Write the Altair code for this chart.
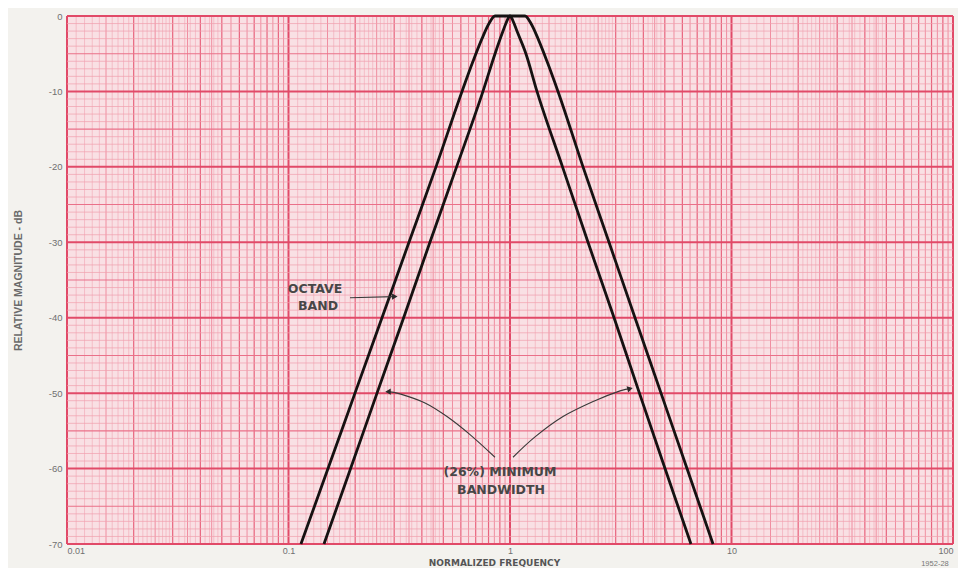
import altair as alt
import pandas as pd

# ---- data ----
oct_freq = [0.1138, 0.1508, 0.1996, 0.2643, 0.3499, 0.4634, 0.6072, 0.6808, 0.7475, 0.8039, 0.8555,
            1.0, 1.169, 1.244, 1.338, 1.469, 1.647, 2.136, 2.799, 3.667, 4.806, 6.297, 8.253]
oct_db = [-70, -60, -50, -40, -30, -20, -10, -6, -3, -1, 0,
          0, 0, -1, -3, -6, -10, -20, -30, -40, -50, -60, -70]

min_freq = [0.1446, 0.1907, 0.251, 0.331, 0.435, 0.574, 0.755, 0.856, 0.930, 0.97, 1.0,
            1.03, 1.075, 1.18, 1.324, 1.726, 2.25, 2.95, 3.84, 5.01, 6.56]
min_db = [-70, -60, -50, -40, -30, -20, -10, -5, -2, -0.6, 0,
          -0.6, -2, -5, -10, -20, -30, -40, -50, -60, -70]

x_ticks = [0.01, 0.1, 1, 10, 100]
y_ticks = [0, -10, -20, -30, -40, -50, -60, -70]

# annotation texts (position in data units)
note_text = ["OCTAVE", "BAND", "(26%) MINIMUM", "BANDWIDTH"]
note_f = [0.1318, 0.1359, 0.901, 0.911]
note_db = [-36.2, -38.4, -60.5, -62.8]

# arrow paths
arrow_grp = ["oct"] * 2 + ["left"] * 6 + ["right"] * 6
arrow_f = [0.1895, 0.298,
           0.8555, 0.660, 0.5194, 0.4133, 0.3186, 0.2813,
           1.0317, 1.297, 1.735, 2.419, 3.139, 3.482]
arrow_db = [-37.35, -37.2,
            -58.5, -55.5, -53.1, -51.3, -50.1, -49.8,
            -58.5, -55.8, -53.1, -51.0, -49.7, -49.4]
head_f = [0.302, 0.2813, 3.482]
head_db = [-37.2, -49.8, -49.4]
head_angle = [0, 180, 345]

# graph paper grid lines
decades = [0.01, 0.1, 1, 10]
grid_major_x = decades + [100]
grid_medium_x = [k * d for d in decades for k in range(2, 10)]
grid_half_x = [(k + 0.5) * d for d in decades for k in range(1, 10)]
fine_mult = [1.1, 1.2, 1.3, 1.4, 1.6, 1.7, 1.8, 1.9, 2.1, 2.2, 2.3, 2.4, 2.6, 2.7, 2.8, 2.9,
             3.2, 3.4, 3.6, 3.8, 4.2, 4.4, 4.6, 4.8]
grid_fine_x = [m * d for d in decades for m in fine_mult]
grid_major_y = list(range(0, -71, -10))
grid_medium_y = list(range(-5, -70, -10))
grid_fine_y = [v for v in range(0, -71, -1) if v % 5 != 0]

vx = pd.DataFrame(
    [(v, 0.6, "#f2a4b3") for v in grid_fine_x]
    + [(v, 0.9, "#ee8598") for v in grid_half_x]
    + [(v, 1.2, "#e8647e") for v in grid_medium_x]
    + [(v, 2.0, "#e14a68") for v in grid_major_x],
    columns=["f", "w", "c"])
hy = pd.DataFrame(
    [(v, 0.7, "#f19fae") for v in grid_fine_y]
    + [(v, 1.1, "#ea7089") for v in grid_medium_y]
    + [(v, 2.0, "#e14a68") for v in grid_major_y],
    columns=["db", "w", "c"])

curves = pd.DataFrame({
    "f": oct_freq + min_freq,
    "db": oct_db + min_db,
    "s": ["oct"] * len(oct_freq) + ["min"] * len(min_freq),
    "i": list(range(len(oct_freq))) + list(range(len(min_freq))),
})
notes = pd.DataFrame({"f": note_f, "db": note_db, "t": note_text})
arrows = pd.DataFrame({"f": arrow_f, "db": arrow_db, "g": arrow_grp, "i": list(range(len(arrow_f)))})
heads = pd.DataFrame({"f": head_f, "db": head_db, "a": head_angle})
code = pd.DataFrame({"f": [82.9], "db": [-72.6], "t": ["1952-28"]})

xs = alt.Scale(type="log", domain=[0.01, 100])
ys = alt.Scale(domain=[-70, 0], nice=False, zero=False)

x_axis = alt.Axis(values=x_ticks, labelExpr="'' + datum.value", grid=False, ticks=False,
                  domain=False, labelFlush=False,
                  labelAlign={"expr": "datum.value == 0.01 ? 'left' : datum.value == 100 ? 'right' : 'center'"},
                  labelFont="Liberation Sans", labelFontSize=9, labelColor="#707070",
                  labelPadding=2,
                  title="NORMALIZED FREQUENCY", titleFont="DejaVu Sans", titleFontWeight="bold",
                  titleFontSize=9, titleColor="#555555", titleX=427, titleY=18.5,
                  titleAlign="center", titleBaseline="middle")
y_axis = alt.Axis(values=y_ticks, labelExpr="'' + datum.value", grid=False, ticks=False,
                  domain=False, labelFont="Liberation Sans", labelFontSize=9.5,
                  labelColor="#707070", labelPadding=5,
                  title="RELATIVE MAGNITUDE - dB", titleFont="Liberation Sans",
                  titleFontWeight="bold", titleFontSize=10.5, titleColor="#6a6a6a",
                  titleX=-49, titleY=264, titleAngle=270, titleAlign="center",
                  titleBaseline="middle")

X = alt.X("f:Q", scale=xs, axis=x_axis)
Y = alt.Y("db:Q", scale=ys, axis=y_axis)

vgrid = alt.Chart(vx).mark_rule().encode(
    x=X,
    strokeWidth=alt.StrokeWidth("w:Q", scale=None),
    color=alt.Color("c:N", scale=None),
)
hgrid = alt.Chart(hy).mark_rule().encode(
    y=Y,
    strokeWidth=alt.StrokeWidth("w:Q", scale=None),
    color=alt.Color("c:N", scale=None),
)
lines = alt.Chart(curves).mark_line(color="#161212", strokeWidth=2.8, interpolate="monotone").encode(
    x=X, y=Y, detail="s:N", order="i:Q",
)
arrow_lines = alt.Chart(arrows).mark_line(color="#3a3a3a", strokeWidth=1.1, interpolate="cardinal").encode(
    x=X, y=Y, detail="g:N", order="i:Q",
)
arrow_heads = alt.Chart(heads).mark_point(shape="triangle-right", filled=True, size=40,
                                          color="#2a2a2a", opacity=1).encode(
    x=X, y=Y, angle=alt.Angle("a:Q", scale=None),
)
note_marks = alt.Chart(notes).mark_text(font="DejaVu Sans", fontWeight="bold", fontSize=12.5,
                                        color="#474747", align="center", baseline="middle").encode(
    x=X, y=Y, text="t:N",
)
code_mark = alt.Chart(code).mark_text(font="Liberation Sans", fontSize=7.5, color="#777777",
                                      align="center", baseline="middle").encode(
    x=X, y=Y, text="t:N",
)

chart = alt.layer(vgrid, hgrid, lines, arrow_lines, arrow_heads, note_marks, code_mark).properties(
    width=886, height=528,
    autosize=alt.AutoSizeParams(type="none"),
    padding={"left": 59, "top": 8, "right": 5, "bottom": 24},
    background="#f3f2ee",
).configure_view(fill="#f9e0e4", stroke=None)

chart.save("out.html", embed_options={"renderer": "svg", "actions": False})
